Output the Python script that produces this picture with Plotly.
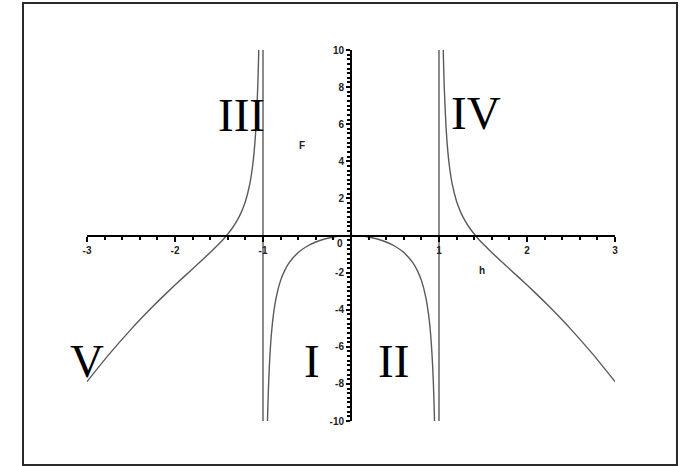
import plotly.graph_objects as go

# F(h) branches, sampled along the curve
h_left = [-3.0, -2.75, -2.5, -2.25, -2.1, -1.9, -1.75, -1.6, -1.5, -1.45, -1.4,
          -1.35, -1.3, -1.25, -1.2, -1.15, -1.12, -1.1, -1.08, -1.06, -1.05, -1.04]
F_left = [-7.88, -6.41, -5.06, -3.82, -3.12, -2.23, -1.58, -0.92, -0.45, -0.20, 0.08,
          0.39, 0.76, 1.22, 1.83, 2.78, 3.68, 4.55, 5.84, 7.97, 9.65, 12.17]

h_mid = [-0.96, -0.95, -0.94, -0.93, -0.92, -0.9, -0.88, -0.85, -0.8, -0.75, -0.7,
         -0.6, -0.5, -0.4, -0.3, -0.2, -0.1, 0.0, 0.1, 0.2, 0.3, 0.4, 0.5, 0.6,
         0.7, 0.75, 0.8, 0.85, 0.88, 0.9, 0.92, 0.93, 0.94, 0.95, 0.96]
F_mid = [-12.68, -10.16, -8.48, -7.27, -6.36, -5.07, -4.21, -3.33, -2.42, -1.85, -1.45,
         -0.92, -0.58, -0.35, -0.19, -0.08, -0.02, 0.0, -0.02, -0.08, -0.19, -0.35, -0.58, -0.92,
         -1.45, -1.85, -2.42, -3.33, -4.21, -5.07, -6.36, -7.27, -8.48, -10.16, -12.68]

h_right = [1.04, 1.05, 1.06, 1.08, 1.1, 1.12, 1.15, 1.2, 1.25, 1.3, 1.35, 1.4,
           1.45, 1.5, 1.6, 1.75, 1.9, 2.1, 2.25, 2.5, 2.75, 3.0]
F_right = [12.17, 9.65, 7.97, 5.84, 4.55, 3.68, 2.78, 1.83, 1.22, 0.76, 0.39, 0.08,
           -0.20, -0.45, -0.92, -1.58, -2.23, -3.12, -3.82, -5.06, -6.41, -7.88]

# jump segments drawn at the poles
pole_h = [-1.0, 1.0]
pole_F = [-10.0, 10.0]

x_ticks = [-3, -2, -1, 1, 2, 3]
x_ticktext = ["-3", "-2", "-1", "1", "2", "3"]
y_ticks = [-10, -8, -6, -4, -2, 2, 4, 6, 8, 10]
y_ticktext = ["-10", "-8", "-6", "-4", "-2", "2", "4", "6", "8", "10"]

regions = ["III", "IV", "V", "I", "II", "VI"]
region_h = [-1.25, 1.42, -3.0, -0.44, 0.48, 3.35]
region_F = [6.52, 6.58, -6.79, -6.79, -6.79, -6.79]

curve_color = "#5a5a5a"
sans = "Liberation Sans, Arial, sans-serif"
tick_font = dict(family=sans, size=10, color="#222222", weight="bold")

fig = go.Figure()
for hs, fs in [(h_left, F_left), (h_mid, F_mid), (h_right, F_right)]:
    fig.add_trace(go.Scatter(x=hs, y=fs, mode="lines",
                             line=dict(color=curve_color, width=1.4, shape="spline", smoothing=0.6),
                             hoverinfo="skip", showlegend=False))
for p in pole_h:
    fig.add_trace(go.Scatter(x=[p, p], y=pole_F, mode="lines",
                             line=dict(color=curve_color, width=1.4),
                             hoverinfo="skip", showlegend=False))

annotations = []
for txt, hx, fy in zip(regions, region_h, region_F):
    annotations.append(dict(x=hx, y=fy, xref="x", yref="y", text=txt, showarrow=False,
                            font=dict(family="Liberation Serif, Times New Roman, serif",
                                      size=47, color="black")))
annotations.append(dict(x=-0.557, y=4.85, xref="x", yref="y", text="F",
                        showarrow=False, font=tick_font))
annotations.append(dict(x=1.49, y=-1.89, xref="x", yref="y", text="h",
                        showarrow=False, font=tick_font))
annotations.append(dict(x=-0.125, y=-0.45, xref="x", yref="y", text="0",
                        showarrow=False, font=tick_font))

fig.update_layout(
    width=695, height=466,
    margin=dict(l=87, r=80, t=50, b=45),
    paper_bgcolor="white", plot_bgcolor="white",
    annotations=annotations,
    shapes=[dict(type="rect", xref="paper", yref="paper",
                 x0=-0.1212, x1=1.1174, y0=-0.1186, y1=1.1267,
                 line=dict(color="#2a2a2a", width=2), layer="above")],
    xaxis=dict(range=[-3, 3], anchor="free", position=0.5, showgrid=False, zeroline=False,
               showline=True, linecolor="black", linewidth=2,
               ticks="outside", ticklen=5, tickwidth=1.5, tickcolor="black",
               tickvals=x_ticks, ticktext=x_ticktext, tickfont=tick_font,
               minor=dict(dtick=0.2, ticks="outside", ticklen=3, tickwidth=1.5, tickcolor="black"),
               fixedrange=True),
    yaxis=dict(range=[-10, 10], anchor="free", position=0.5, showgrid=False, zeroline=False,
               showline=True, linecolor="black", linewidth=2,
               ticks="outside", ticklen=4, tickwidth=1.5, tickcolor="black",
               tickvals=y_ticks, ticktext=y_ticktext, tickfont=tick_font,
               minor=dict(dtick=0.25, ticks="outside", ticklen=3, tickwidth=1.5, tickcolor="black"),
               fixedrange=True),
)

fig.write_html("out.html")
